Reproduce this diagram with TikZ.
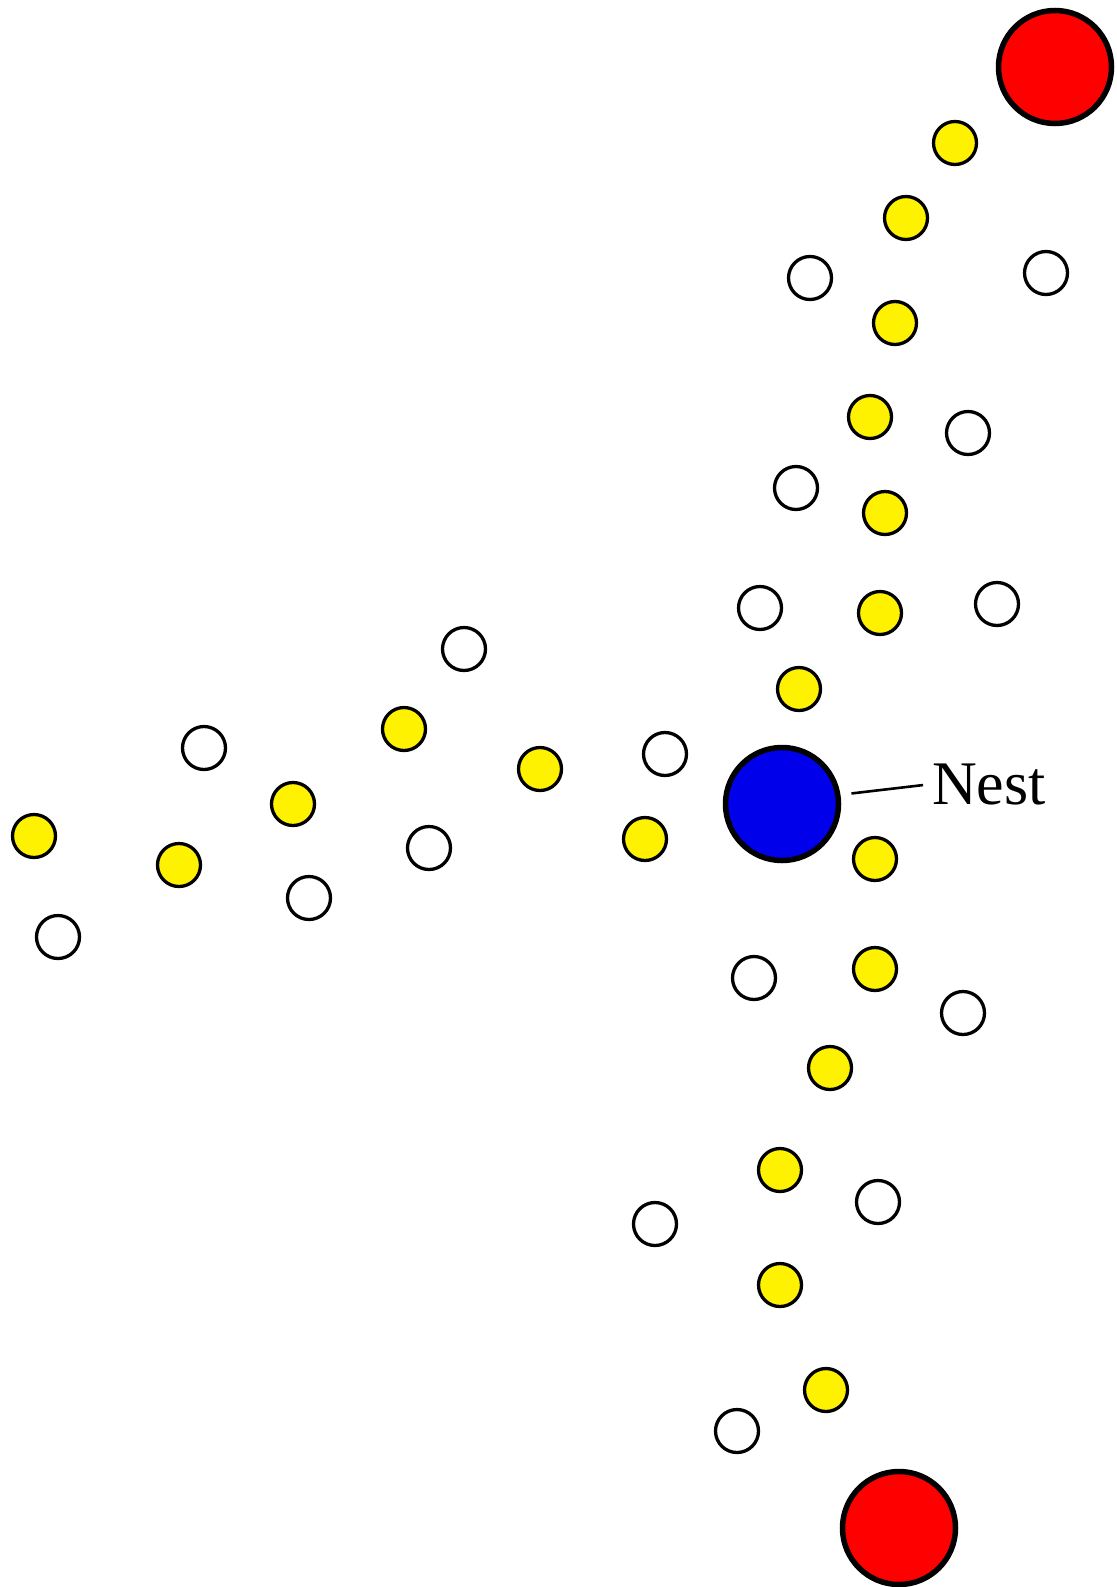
\documentclass[tikz,border=0pt]{standalone}
\usepackage{fontspec}
\setmainfont{Liberation Serif}
\definecolor{foodyellow}{RGB}{255,242,0}
\definecolor{nestblue}{RGB}{0,0,235}
\definecolor{srcred}{RGB}{255,0,0}
\begin{document}
\begin{tikzpicture}[x=1pt,y=-1pt,
  ant/.style={circle,draw=black,line width=3.3pt,minimum size=43pt,inner sep=0pt},
  yel/.style={ant,fill=foodyellow},
  wht/.style={ant,fill=white},
  big/.style={circle,draw=black,line width=5.5pt,minimum size=113pt,inner sep=0pt}]
\useasboundingbox (0,0) rectangle (1116,1587);
% nest and food sources
\node[big,fill=nestblue] (nest) at (782,804) {};
\node[big,fill=srcred] (srctop) at (1055,67) {};
\node[big,fill=srcred] (srcbot) at (899,1528) {};
% label
\node[anchor=base west,inner sep=0pt,font=\fontsize{62}{64}\selectfont] (lbl) at (932,804) {Nest};
\draw[line width=2.6pt,shorten <=11pt,shorten >=9pt] (nest.9) -- (lbl.west);
% loaded ants
\node[yel] (y1) at (955,143) {};
\node[yel] (y2) at (906,218) {};
\node[yel] (y3) at (895,323) {};
\node[yel] (y4) at (870,417) {};
\node[yel] (y5) at (885,513) {};
\node[yel] (y6) at (880,613) {};
\node[yel] (y7) at (799,689) {};
\node[yel] (y8) at (875,859) {};
\node[yel] (y9) at (875,969) {};
\node[yel] (y10) at (830,1068) {};
\node[yel] (y11) at (780,1170) {};
\node[yel] (y12) at (780,1285) {};
\node[yel] (y13) at (826,1390) {};
\node[yel] (y14) at (645,839) {};
\node[yel] (y15) at (540,769) {};
\node[yel] (y16) at (404,729) {};
\node[yel] (y17) at (293,804) {};
\node[yel] (y18) at (179,865) {};
\node[yel] (y19) at (34,836) {};
% empty ants
\node[wht] (w1) at (810,278) {};
\node[wht] (w2) at (1046,273) {};
\node[wht] (w3) at (968,433) {};
\node[wht] (w4) at (796,488) {};
\node[wht] (w5) at (760,608) {};
\node[wht] (w6) at (997,604) {};
\node[wht] (w7) at (665,754) {};
\node[wht] (w8) at (464,649) {};
\node[wht] (w9) at (204,748) {};
\node[wht] (w10) at (429,848) {};
\node[wht] (w11) at (309,898) {};
\node[wht] (w12) at (58,937) {};
\node[wht] (w13) at (754,978) {};
\node[wht] (w14) at (963,1013) {};
\node[wht] (w15) at (878,1202) {};
\node[wht] (w16) at (655,1224) {};
\node[wht] (w17) at (737,1431) {};
\end{tikzpicture}
\end{document}
